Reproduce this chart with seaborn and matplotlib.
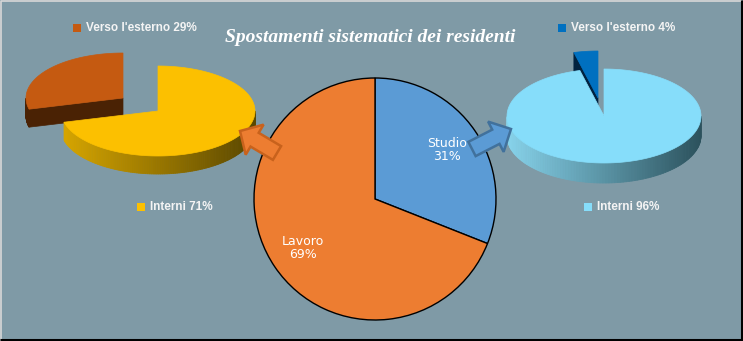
import numpy as np
import matplotlib
matplotlib.use("Agg")
import matplotlib.pyplot as plt
import seaborn as sns
from matplotlib.patches import Polygon, FancyArrow
from matplotlib.colors import to_rgb

# ---------------- data ----------------
main_labels = ["Studio", "Lavoro"]
main_values = [31, 69]
main_colors = ["#5B9BD5", "#ED7D31"]

lavoro_labels = ["Interni", "Verso l'esterno"]
lavoro_values = [71, 29]
lavoro_colors = ["#FCC000", "#C55A11"]

studio_labels = ["Interni", "Verso l'esterno"]
studio_values = [96, 4]
studio_colors = ["#86DDFA", "#0070C0"]

title = "Spostamenti sistematici dei residenti"

# ---------------- style ----------------
sns.set_theme(style="white")
plt.rcParams["font.family"] = ["DejaVu Sans"]
BG = "#7F9AA6"
W, H = 743, 341


def Y(y):
    return H - y


fig = plt.figure(figsize=(W / 100, H / 100), dpi=100)
fig.patch.set_facecolor(BG)
ax = fig.add_axes([0, 0, 1, 1])
ax.set_facecolor(BG)

# ---------------- central pie ----------------
wedges, texts = ax.pie(
    main_values,
    labels=[f"{l}\n{v}%" for l, v in zip(main_labels, main_values)],
    colors=main_colors,
    startangle=90,
    counterclock=False,
    center=(375, Y(199)),
    radius=121,
    labeldistance=0.72,
    wedgeprops=dict(edgecolor="black", linewidth=1.0),
    textprops=dict(color="white", fontsize=9, linespacing=1.05),
)
for t in texts:
    t.set_ha("center")
    t.set_va("center")


# ---------------- 3D pies ----------------
def lerp(c1, c2, f):
    a, b = np.array(to_rgb(c1)), np.array(to_rgb(c2))
    return tuple(a + (b - a) * f)


def pie3d(ax, cx, cy, a, b, depth, values, colors, side_grad, radial_col,
          explode_idx, explode_off):
    vals = np.array(values, float)
    frac = vals / vals.sum()
    cum = np.concatenate([[0], np.cumsum(frac)])
    order = [explode_idx] + [i for i in range(len(vals)) if i != explode_idx]
    for i in order:
        t2 = 90 - 360 * cum[i]
        t1 = 90 - 360 * cum[i + 1]
        ox, oy = explode_off if i == explode_idx else (0, 0)
        vx, vy = cx + ox, cy + oy
        ts = np.radians(np.linspace(t1, t2, 200))
        xs = vx + a * np.cos(ts)
        ys = vy + b * np.sin(ts)
        # curved side (front part only)
        for k in range(len(ts) - 1):
            mid = 0.5 * (ts[k] + ts[k + 1])
            if np.sin(mid) < 0:
                f = (0.5 * (xs[k] + xs[k + 1]) - (vx - a)) / (2 * a)
                col = lerp(side_grad[i][0], side_grad[i][1], np.clip(f, 0, 1))
                quad = [(xs[k], ys[k]), (xs[k + 1], ys[k + 1]),
                        (xs[k + 1], ys[k + 1] - depth), (xs[k], ys[k] - depth)]
                ax.add_patch(Polygon(quad, closed=True, fc=col, ec=col,
                                     lw=0.6, zorder=2))
        # radial faces
        for t, vis in ((t1, np.cos(np.radians(t1)) > 1e-6),
                       (t2, np.cos(np.radians(t2)) < -1e-6)):
            if vis:
                ex = vx + a * np.cos(np.radians(t))
                ey = vy + b * np.sin(np.radians(t))
                quad = [(vx, vy), (ex, ey), (ex, ey - depth), (vx, vy - depth)]
                ax.add_patch(Polygon(quad, closed=True, fc=radial_col[i],
                                     ec=radial_col[i], lw=0.5, zorder=2))
        # top face
        pts = [(vx, vy)] + list(zip(xs, ys))
        ax.add_patch(Polygon(pts, closed=True, fc=colors[i], ec=colors[i],
                             lw=0.5, zorder=3))


pie3d(ax, 158, Y(111), 97, 45, 18, lavoro_values, lavoro_colors,
      side_grad=[("#D9A700", "#5A4700"), ("#4A2204", "#4A2204")],
      radial_col=["#8A6A00", "#4A2204"],
      explode_idx=1, explode_off=(-35, 13))

pie3d(ax, 604, Y(116), 97, 47, 20, studio_values, studio_colors,
      side_grad=[("#88D4EC", "#2C525D"), ("#01223F", "#01223F")],
      radial_col=["#3B6F80", "#01223F"],
      explode_idx=1, explode_off=(-6, 18))

# ---------------- legends ----------------
leg_font = dict(color="#F4F4F4", fontsize=8.5, fontweight="bold",
                family="Liberation Sans", va="center", ha="left")


def legend_entry(x, y, color, text):
    ax.scatter([x], [Y(y)], marker="s", s=26, color=color, zorder=5,
               linewidths=0)
    ax.text(x + 9, Y(y), text, zorder=5, **leg_font)


legend_entry(77, 28, lavoro_colors[1], f"{lavoro_labels[1]} {lavoro_values[1]}%")
legend_entry(141, 207, lavoro_colors[0], f"{lavoro_labels[0]} {lavoro_values[0]}%")
legend_entry(562, 28, studio_colors[1], f"{studio_labels[1]} {studio_values[1]}%")
legend_entry(588, 207, studio_colors[0], f"{studio_labels[0]} {studio_values[0]}%")

# ---------------- title ----------------
ax.text(370, Y(37), title, color="white", fontsize=14, fontstyle="italic",
        fontweight="bold", family="Liberation Serif", ha="center", va="center",
        zorder=6)

# ---------------- arrows ----------------
ax.add_patch(FancyArrow(277, Y(153), 240 - 277, Y(131) - Y(153), width=16,
                        head_width=35, head_length=17,
                        length_includes_head=True, fc="#ED7D31", ec="#C8621C",
                        lw=1.8, zorder=4))
ax.add_patch(FancyArrow(472, Y(149), 511 - 472, Y(129) - Y(149), width=16,
                        head_width=34, head_length=17,
                        length_includes_head=True, fc="#5B9BD5", ec="#41719C",
                        lw=1.8, zorder=4))

# ---------------- frame ----------------
ax.plot([0.5, 0.5, W - 1], [0, H - 0.5, H - 0.5], color="#D8D8D8", lw=1.2,
        zorder=7, solid_capstyle="butt")
ax.plot([0, W - 1, W - 1], [1, 1, H], color="black", lw=2.2, zorder=7,
        solid_capstyle="butt")

ax.set_xlim(0, W)
ax.set_ylim(0, H)
ax.set_aspect("auto")
ax.axis("off")

fig.savefig("out.png", dpi=100, facecolor=BG)
